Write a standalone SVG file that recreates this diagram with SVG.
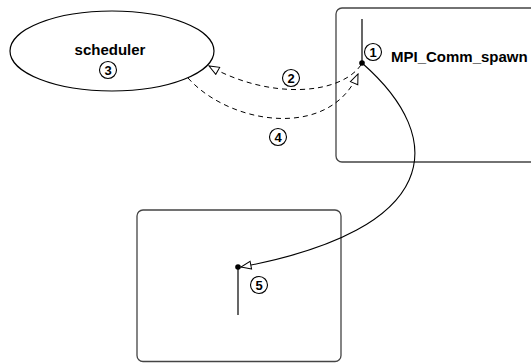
<svg xmlns="http://www.w3.org/2000/svg" width="531" height="363" viewBox="0 0 531 363">
  <defs>
    <marker id="open-tri" viewBox="0 0 12 10" refX="11" refY="5" markerWidth="12" markerHeight="10" markerUnits="userSpaceOnUse" orient="auto">
      <path d="M1,1 L11,5 L1,9 Z" fill="#fff" stroke="#000" stroke-width="1"/>
    </marker>
  </defs>
  <style>
    .box { fill: #fff; stroke: #444; stroke-width: 1.3; }
    .ell { fill: #fff; stroke: #000; stroke-width: 1.2; }
    .label { font-family: "Liberation Sans", Arial, sans-serif; font-weight: bold; font-size: 15px; fill: #000; }
    .num { font-family: "Liberation Sans", Arial, sans-serif; font-weight: bold; font-size: 13px; fill: #000; text-anchor: middle; }
    .badge { fill: #fff; stroke: #000; stroke-width: 1.1; }
    .thread { stroke: #000; stroke-width: 1.2; fill: none; }
    .dash { fill: none; stroke: #000; stroke-width: 1; stroke-dasharray: 5 4; }
    .solid { fill: none; stroke: #000; stroke-width: 1.1; }
  </style>

  <!-- scheduler process -->
  <g id="scheduler">
    <ellipse class="ell" cx="112" cy="51" rx="102" ry="40"/>
    <text class="label" x="110" y="55" text-anchor="middle">scheduler</text>
    <circle class="badge" cx="108" cy="70" r="8.5"/>
    <text class="num" x="108" y="74.7">3</text>
  </g>

  <!-- parent process calling MPI_Comm_spawn -->
  <g id="parent">
    <rect class="box" x="336" y="8" width="210" height="154" rx="6"/>
    <line class="thread" x1="362" y1="19" x2="362" y2="63"/>
    <circle cx="362" cy="63" r="2.8" fill="#000"/>
    <circle class="badge" cx="373" cy="52" r="8.5"/>
    <text class="num" x="373" y="56.7">1</text>
    <text class="label" x="391" y="62">MPI_Comm_spawn</text>
  </g>

  <!-- spawned child process -->
  <g id="child">
    <rect class="box" x="137" y="210" width="204" height="151.5" rx="6"/>
    <line class="thread" x1="238" y1="267" x2="238" y2="315" stroke="#555"/>
    <circle cx="238" cy="267" r="2.8" fill="#000"/>
    <circle class="badge" cx="259" cy="285" r="8.5"/>
    <text class="num" x="259" y="289.7">5</text>
  </g>

  <!-- request / reply / spawn connectors -->
  <g id="connectors">
    <path class="dash" d="M361,65 C340,95 270,100 209,66" marker-end="url(#open-tri)"/>
    <circle class="badge" cx="291" cy="78" r="8.5"/>
    <text class="num" x="291" y="82.7">2</text>
    <path class="dash" d="M188,78 C230,125 330,140 358,74" marker-end="url(#open-tri)"/>
    <circle class="badge" cx="278" cy="137" r="8.5"/>
    <text class="num" x="278" y="141.7">4</text>
    <path class="solid" d="M362,63 C450,140 440,230 241,267" marker-end="url(#open-tri)"/>
  </g>
</svg>
